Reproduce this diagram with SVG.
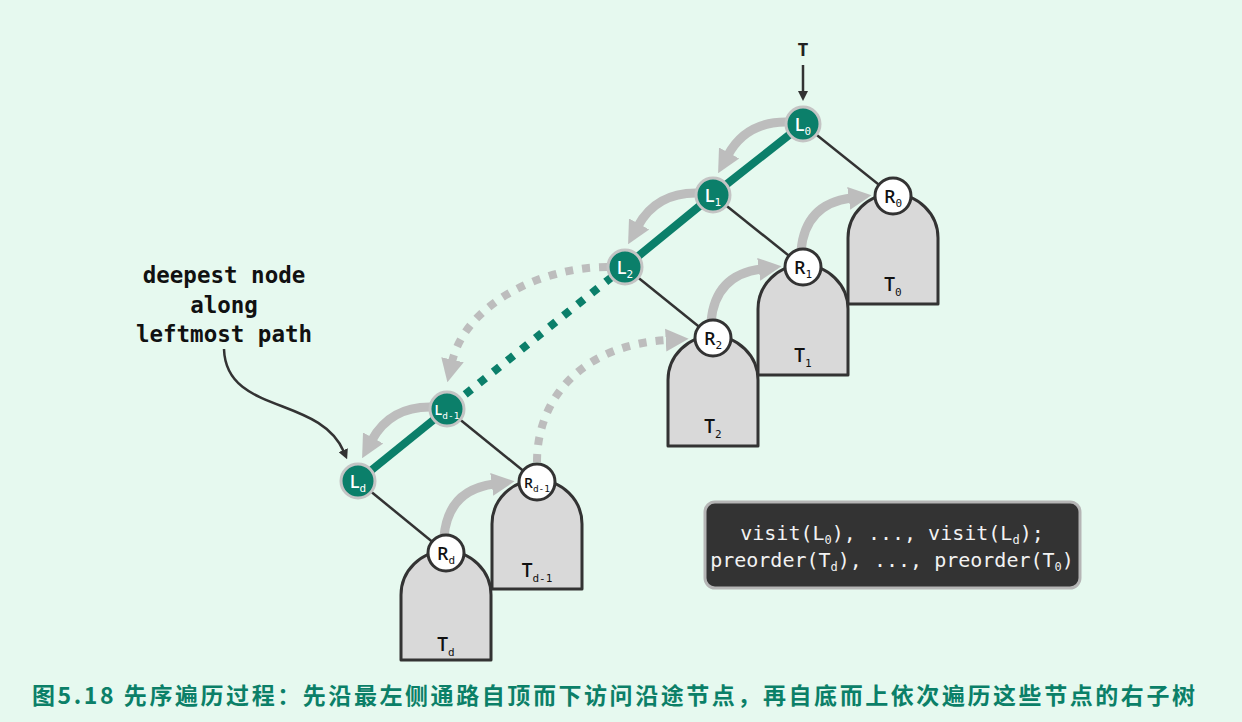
<svg xmlns="http://www.w3.org/2000/svg" width="1242" height="722" viewBox="0 0 1242 722">
<defs>
<style>
.sub{fill:#d9d9d9;stroke:#333;stroke-width:3;stroke-linejoin:round}
.edge{stroke:#333;stroke-width:2.5;fill:none}
.gp{stroke:#0b7f6a;stroke-width:8;fill:none}
.gpd{stroke:#0b7f6a;stroke-width:8;fill:none;stroke-dasharray:8 10}
.ga{stroke:#bdbdbd;stroke-width:9;fill:none;marker-end:url(#ah)}
.gad{stroke:#bdbdbd;stroke-width:8;fill:none;stroke-dasharray:8 9;marker-end:url(#ah)}
.gn{fill:#0b7f6a;stroke:#c4c4c4;stroke-width:3}
.wn{fill:#fff;stroke:#333;stroke-width:3}
.nl{font-family:"Open Sans","Noto Sans",sans-serif;font-size:18px;text-anchor:middle;font-weight:600}
.nls{font-family:"Open Sans","Noto Sans",sans-serif;font-size:14px;text-anchor:middle;font-weight:600}
.ms{font-family:"DejaVu Sans Mono",monospace;font-size:11px;font-weight:normal}
.ms2{font-family:"DejaVu Sans Mono",monospace;font-size:9.5px;font-weight:normal}
.tl{font-family:"Open Sans","Noto Sans",sans-serif;font-size:19px;text-anchor:middle;fill:#111;font-weight:600}
.lab{font-family:"DejaVu Sans Mono",monospace;font-size:22.5px;font-weight:bold;fill:#111;text-anchor:middle}
.code{font-family:"DejaVu Sans Mono",monospace;font-size:20px;fill:#f2f2f2;text-anchor:middle}
.csub{font-size:12px}
</style>
<marker id="ah" viewBox="0 0 10 10" refX="1" refY="5" markerWidth="23" markerHeight="26" markerUnits="userSpaceOnUse" orient="auto"><path d="M0,0 L10,5 L0,10 z" fill="#bdbdbd"/></marker>
<marker id="dh" viewBox="0 0 10 10" refX="2" refY="5" markerWidth="10" markerHeight="10" markerUnits="userSpaceOnUse" orient="auto"><path d="M0,0 L10,5 L0,10 z" fill="#333"/></marker>
</defs>
<rect x="0" y="0" width="1242" height="722" fill="#e6f9ef"/>

<g id="subtrees">
<g id="subtree-T0"><path class="sub" d="M848 304 L848 238 A45 44 0 0 1 938 238 L938 304 Z"/><text class="tl" x="893" y="291">T<tspan class="ms" dy="5">0</tspan></text></g>
<g id="subtree-T1"><path class="sub" d="M758 375 L758 309 A45 44 0 0 1 848 309 L848 375 Z"/><text class="tl" x="803" y="362">T<tspan class="ms" dy="5">1</tspan></text></g>
<g id="subtree-T2"><path class="sub" d="M668 446 L668 380 A45 44 0 0 1 758 380 L758 446 Z"/><text class="tl" x="713" y="433">T<tspan class="ms" dy="5">2</tspan></text></g>
<g id="subtree-Td-1"><path class="sub" d="M492 589 L492 524 A45 44 0 0 1 582 524 L582 589 Z"/><text class="tl" x="537" y="577">T<tspan class="ms" dy="5">d-1</tspan></text></g>
<g id="subtree-Td"><path class="sub" d="M401 660 L401 595 A45 44 0 0 1 491 595 L491 660 Z"/><text class="tl" x="446" y="651">T<tspan class="ms" dy="5">d</tspan></text></g>
</g>

<g id="connectors">
<line class="edge" x1="803" y1="124" x2="893" y2="196"/>
<line class="edge" x1="713" y1="195" x2="803" y2="267"/>
<line class="edge" x1="625" y1="267" x2="713" y2="338"/>
<line class="edge" x1="447" y1="409" x2="537" y2="482"/>
<line class="edge" x1="358" y1="481" x2="446" y2="553"/>
<path class="gp" d="M803 124 L713 195 L625 267 L612 277"/>
<path class="gpd" d="M612 277 L447 409"/>
<path class="gp" d="M447 409 L358 481"/>
<path class="ga" d="M786 122 Q746 122 728 155"/>
<path class="ga" d="M696 193 Q656 193 638 226"/>
<path class="gad" d="M607 267 C540 267 465 305 452 362"/>
<path class="ga" d="M430 407 Q390 407 372 440"/>
<path class="ga" d="M444 537 Q448 490 494 484"/>
<path class="gad" d="M537 462 C537 400 580 345 668 340"/>
<path class="ga" d="M711 322 Q715 275 761 269"/>
<path class="ga" d="M801 251 Q805 204 851 198"/>
<line class="edge" x1="803" y1="65" x2="803" y2="93" marker-end="url(#dh)"/>
<path class="edge" d="M224 349 C226 415 320 395 344 452" marker-end="url(#dh)"/>
</g>

<g id="node-L0"><circle class="gn" cx="803" cy="124" r="17"/><text class="nl" x="803" y="131" fill="#fff">L<tspan class="ms" dy="4">0</tspan></text></g>
<g id="node-L1"><circle class="gn" cx="713" cy="195" r="17"/><text class="nl" x="713" y="202" fill="#fff">L<tspan class="ms" dy="4">1</tspan></text></g>
<g id="node-L2"><circle class="gn" cx="625" cy="267" r="17"/><text class="nl" x="625" y="274" fill="#fff">L<tspan class="ms" dy="4">2</tspan></text></g>
<g id="node-Ld-1"><circle class="gn" cx="447" cy="409" r="17"/><text class="nls" x="447" y="415" fill="#fff">L<tspan class="ms2" dy="4">d-1</tspan></text></g>
<g id="node-Ld"><circle class="gn" cx="358" cy="481" r="17"/><text class="nl" x="358" y="488" fill="#fff">L<tspan class="ms" dy="4">d</tspan></text></g>
<g id="node-R0"><circle class="wn" cx="893" cy="196" r="18"/><text class="nl" x="893" y="203" fill="#111">R<tspan class="ms" dy="4">0</tspan></text></g>
<g id="node-R1"><circle class="wn" cx="803" cy="267" r="18"/><text class="nl" x="803" y="274" fill="#111">R<tspan class="ms" dy="4">1</tspan></text></g>
<g id="node-R2"><circle class="wn" cx="713" cy="338" r="18"/><text class="nl" x="713" y="345" fill="#111">R<tspan class="ms" dy="4">2</tspan></text></g>
<g id="node-Rd-1"><circle class="wn" cx="537" cy="482" r="18"/><text class="nls" x="537" y="488" fill="#111">R<tspan class="ms2" dy="4">d-1</tspan></text></g>
<g id="node-Rd"><circle class="wn" cx="446" cy="553" r="18"/><text class="nl" x="446" y="560" fill="#111">R<tspan class="ms" dy="4">d</tspan></text></g>

<g id="label-T"><text x="803" y="56" font-family="'Open Sans','Noto Sans',sans-serif" font-size="18" font-weight="bold" fill="#222" text-anchor="middle">T</text></g>

<g id="label-deepest">
<text class="lab" x="224" y="283">deepest node</text>
<text class="lab" x="224" y="313">along</text>
<text class="lab" x="224" y="342">leftmost path</text>
</g>

<g id="code-box">
<rect x="705" y="502" width="375" height="86" rx="10" fill="#333" stroke="#b5b5b5" stroke-width="3"/>
<text class="code" x="892" y="540">visit(L<tspan class="csub" dy="4">0</tspan><tspan dy="-4">), ..., visit(L</tspan><tspan class="csub" dy="4">d</tspan><tspan dy="-4">);</tspan></text>
<text class="code" x="892" y="567">preorder(T<tspan class="csub" dy="4">d</tspan><tspan dy="-4">), ..., preorder(T</tspan><tspan class="csub" dy="4">0</tspan><tspan dy="-4">)</tspan></text>
</g>

<text x="32" y="704" font-family="'Noto Sans CJK SC',sans-serif" font-size="23" font-weight="bold" fill="#0b8068" textLength="1163" lengthAdjust="spacing">图5.18 先序遍历过程：先沿最左侧通路自顶而下访问沿途节点，再自底而上依次遍历这些节点的右子树</text>
</svg>
